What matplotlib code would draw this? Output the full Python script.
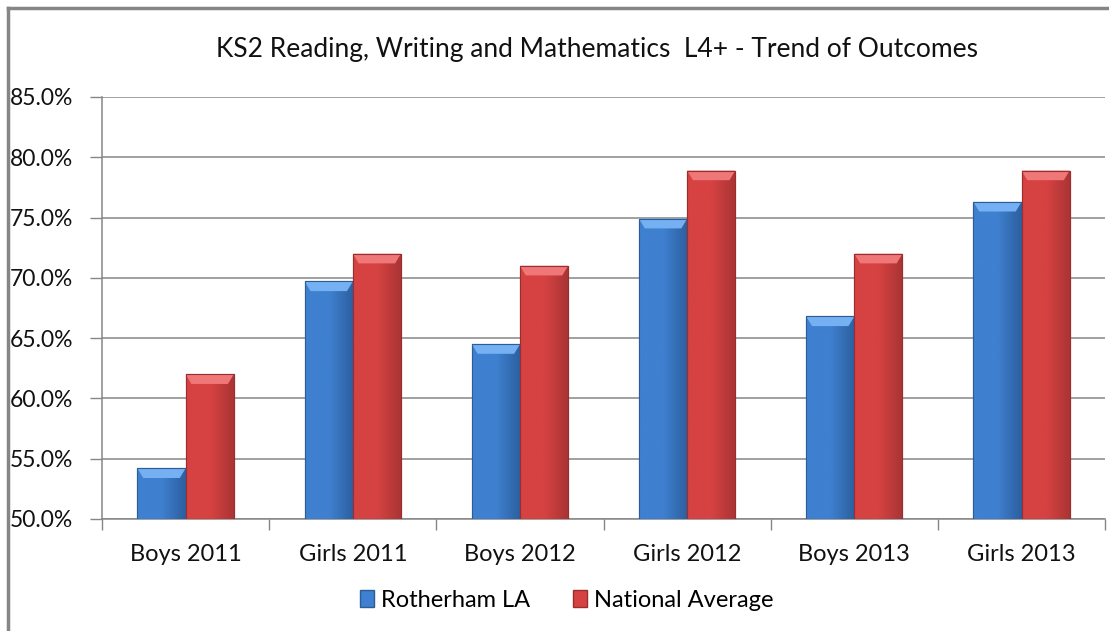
import matplotlib
matplotlib.use("Agg")
import matplotlib.pyplot as plt
import numpy as np
from matplotlib.patches import Polygon, Rectangle
from matplotlib.colors import LinearSegmentedColormap
from matplotlib.ticker import FuncFormatter, MultipleLocator
from matplotlib.lines import Line2D

categories = ["Boys 2011", "Girls 2011", "Boys 2012", "Girls 2012", "Boys 2013", "Girls 2013"]
rotherham = [54.2, 69.7, 64.5, 74.9, 66.8, 76.3]
national = [62.0, 72.0, 71.0, 78.9, 72.0, 78.9]
series_names = ["Rotherham LA", "National Average"]
title = "KS2 Reading, Writing and Mathematics  L4+ - Trend of Outcomes"

plt.rcParams['font.family'] = ['Lato', 'DejaVu Sans']

fig = plt.figure(figsize=(11.09, 6.31), dpi=100)
ax = fig.add_axes([0.092, 0.1775, 0.9045, 0.6688])

x = np.arange(len(categories))
w = 0.288
styles = [
    dict(mid="#3f80d0", dark="#2c5f9f", light="#74b0f2", edge="#2d5c96"),
    dict(mid="#d64242", dark="#a93434", light="#f07777", edge="#9a2e2e"),
]

ymin = 50
for vals, off, st, name in [(rotherham, -w / 2, styles[0], series_names[0]),
                            (national, w / 2, styles[1], series_names[1])]:
    bars = ax.bar(x + off, np.array(vals) - ymin, w, bottom=ymin, color=st["mid"],
                  edgecolor=st["edge"], linewidth=0.8, zorder=3, label=name)
    cmap = LinearSegmentedColormap.from_list("g", [st["mid"], st["mid"], st["dark"]])
    grad = np.linspace(0, 1, 64).reshape(1, -1)
    for b in bars:
        x0, y0 = b.get_x(), b.get_y()
        bw, bh = b.get_width(), b.get_height()
        im = ax.imshow(grad, cmap=cmap, aspect="auto", extent=[x0, x0 + bw, y0, y0 + bh],
                       zorder=3.1, interpolation="bicubic")
        im.set_clip_path(b)
        bev = 0.8
        ins = 0.035
        ytop = y0 + bh
        poly = Polygon([[x0, ytop], [x0 + bw, ytop], [x0 + bw - ins, ytop - bev],
                        [x0 + ins, ytop - bev]], closed=True, facecolor=st["light"],
                       edgecolor="none", zorder=3.2)
        ax.add_patch(poly)
        ax.add_patch(Rectangle((x0, y0), bw, bh, facecolor="none", edgecolor=st["edge"],
                               linewidth=0.8, zorder=3.3))

ax.set_xlim(-0.5, len(categories) - 0.5)
ax.set_ylim(50, 85)
ax.yaxis.set_major_locator(MultipleLocator(5))
ax.yaxis.set_major_formatter(FuncFormatter(lambda v, p: f"{v:.1f}%"))
ax.grid(axis="y", color="#868686", linewidth=1.1, zorder=0)
ax.set_axisbelow(True)

ax.set_xticks(x)
ax.set_xticklabels(categories, fontsize=17, color="#111111")
ax.set_xticks(np.arange(len(categories) + 1) - 0.5, minor=True)
ax.tick_params(axis="x", which="major", length=0, pad=18)
ax.tick_params(axis="x", which="minor", length=8, color="#868686", width=1)
ax.tick_params(axis="y", length=9, color="#868686", width=1, labelsize=16.5,
               labelcolor="#111111", pad=12)

for s in ["top", "right"]:
    ax.spines[s].set_visible(False)
for s in ["left", "bottom"]:
    ax.spines[s].set_color("#868686")
    ax.spines[s].set_linewidth(1.1)

fig.text(0.538, 0.921, title, ha="center", va="center", fontsize=19, color="#111111")

handles = [Rectangle((0, 0), 1, 1, facecolor=styles[0]["mid"], edgecolor=styles[0]["edge"]),
           Rectangle((0, 0), 1, 1, facecolor=styles[1]["mid"], edgecolor=styles[1]["edge"])]
fig.legend(handles, series_names, loc="center", bbox_to_anchor=(0.511, 0.049), ncol=2,
           frameon=False, fontsize=17, handlelength=0.6, handleheight=0.7,
           handletextpad=0.3, columnspacing=1.8)

fig.add_artist(Line2D([0.0075, 0.0075], [0, 0.987], transform=fig.transFigure,
                      color="#868686", linewidth=2.5))
fig.add_artist(Line2D([0.0075, 1.0], [0.987, 0.987], transform=fig.transFigure,
                      color="#868686", linewidth=2.5))

fig.savefig("out.png", dpi=100, facecolor="white")
